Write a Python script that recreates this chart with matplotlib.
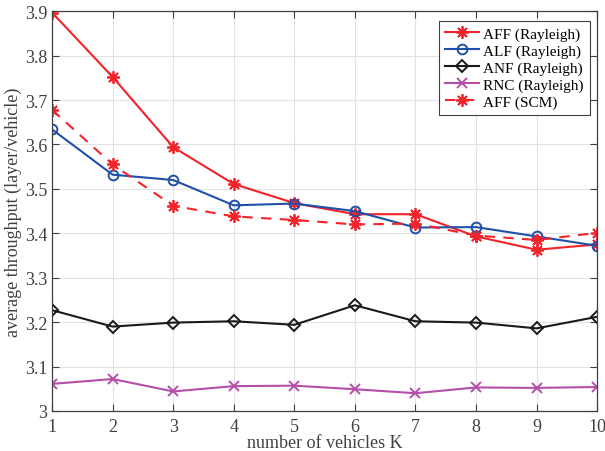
import numpy as np
import matplotlib.pyplot as plt

plt.rcParams['font.family'] = ['Liberation Serif', 'DejaVu Serif']

K = [1, 2, 3, 4, 5, 6, 7, 8, 9, 10]
aff_rayleigh = [3.897, 3.752, 3.594, 3.511, 3.468, 3.443, 3.443, 3.393, 3.363, 3.375]
alf_rayleigh = [3.634, 3.532, 3.520, 3.463, 3.467, 3.450, 3.413, 3.414, 3.393, 3.372]
anf_rayleigh = [3.227, 3.190, 3.199, 3.202, 3.194, 3.238, 3.202, 3.199, 3.186, 3.212]
rnc_rayleigh = [3.061, 3.072, 3.044, 3.056, 3.057, 3.049, 3.040, 3.053, 3.052, 3.054]
aff_scm = [3.678, 3.555, 3.462, 3.438, 3.430, 3.420, 3.422, 3.395, 3.385, 3.401]

red = '#f5222a'
blue = '#2050a8'
magenta = '#b44ea8'
asterisk = (8, 2, 0)

fig = plt.figure(figsize=(6.05, 4.52), dpi=100)
ax = fig.add_axes([0.086, 0.0885, 0.901, 0.8845])

ax.plot(K, aff_rayleigh, '-', color=red, lw=1.5, marker=asterisk, ms=9, mew=1.3,
        label='AFF (Rayleigh)')
ax.plot(K, alf_rayleigh, '-', color=blue, lw=1.5, marker='o', ms=7, mfc='none', mew=1.4,
        label='ALF (Rayleigh)')
ax.plot(K, anf_rayleigh, '-', color='#1a1a1a', lw=1.5, marker='D', ms=6.5, mfc='none', mew=1.4,
        label='ANF (Rayleigh)')
ax.plot(K, rnc_rayleigh, '-', color=magenta, lw=1.5, marker='x', ms=6.5, mew=1.4,
        label='RNC (Rayleigh)')
ax.plot(K, aff_scm, '--', color=red, lw=1.5, marker=asterisk, ms=9, mew=1.3,
        dashes=(5, 4), label='AFF (SCM)')

ax.set_xlim(1, 10)
ax.set_ylim(3, 3.9)
ax.set_xticks(K)
ax.set_yticks(np.arange(3.0, 3.91, 0.1))
ax.set_yticklabels(['3', '3.1', '3.2', '3.3', '3.4', '3.5', '3.6', '3.7', '3.8', '3.9'])
ax.grid(True, color='#e2e2e2', lw=0.8)
ax.tick_params(direction='in', top=True, right=True, labelsize=13, colors='#404040',
               length=5, width=0.8)
ax.tick_params(axis='x', pad=5)
for s in ax.spines.values():
    s.set_color('#404040')
    s.set_linewidth(0.9)

ax.set_xlabel('number of vehicles K', fontsize=13, color='#404040', labelpad=-1)
ax.set_ylabel('average throughput (layer/vehicle)', fontsize=13, color='#404040', labelpad=2)

leg = ax.legend(loc='upper right', bbox_to_anchor=(590 / 605, 1 - 22 / 452),
                bbox_transform=fig.transFigure, borderaxespad=0,
                fontsize=11, fancybox=False, framealpha=1,
                edgecolor='#404040', handlelength=2.2,
                labelspacing=0.2, handletextpad=0.3, borderpad=0.4)
leg.get_frame().set_linewidth(0.8)

fig.savefig('out.png', dpi=100)
